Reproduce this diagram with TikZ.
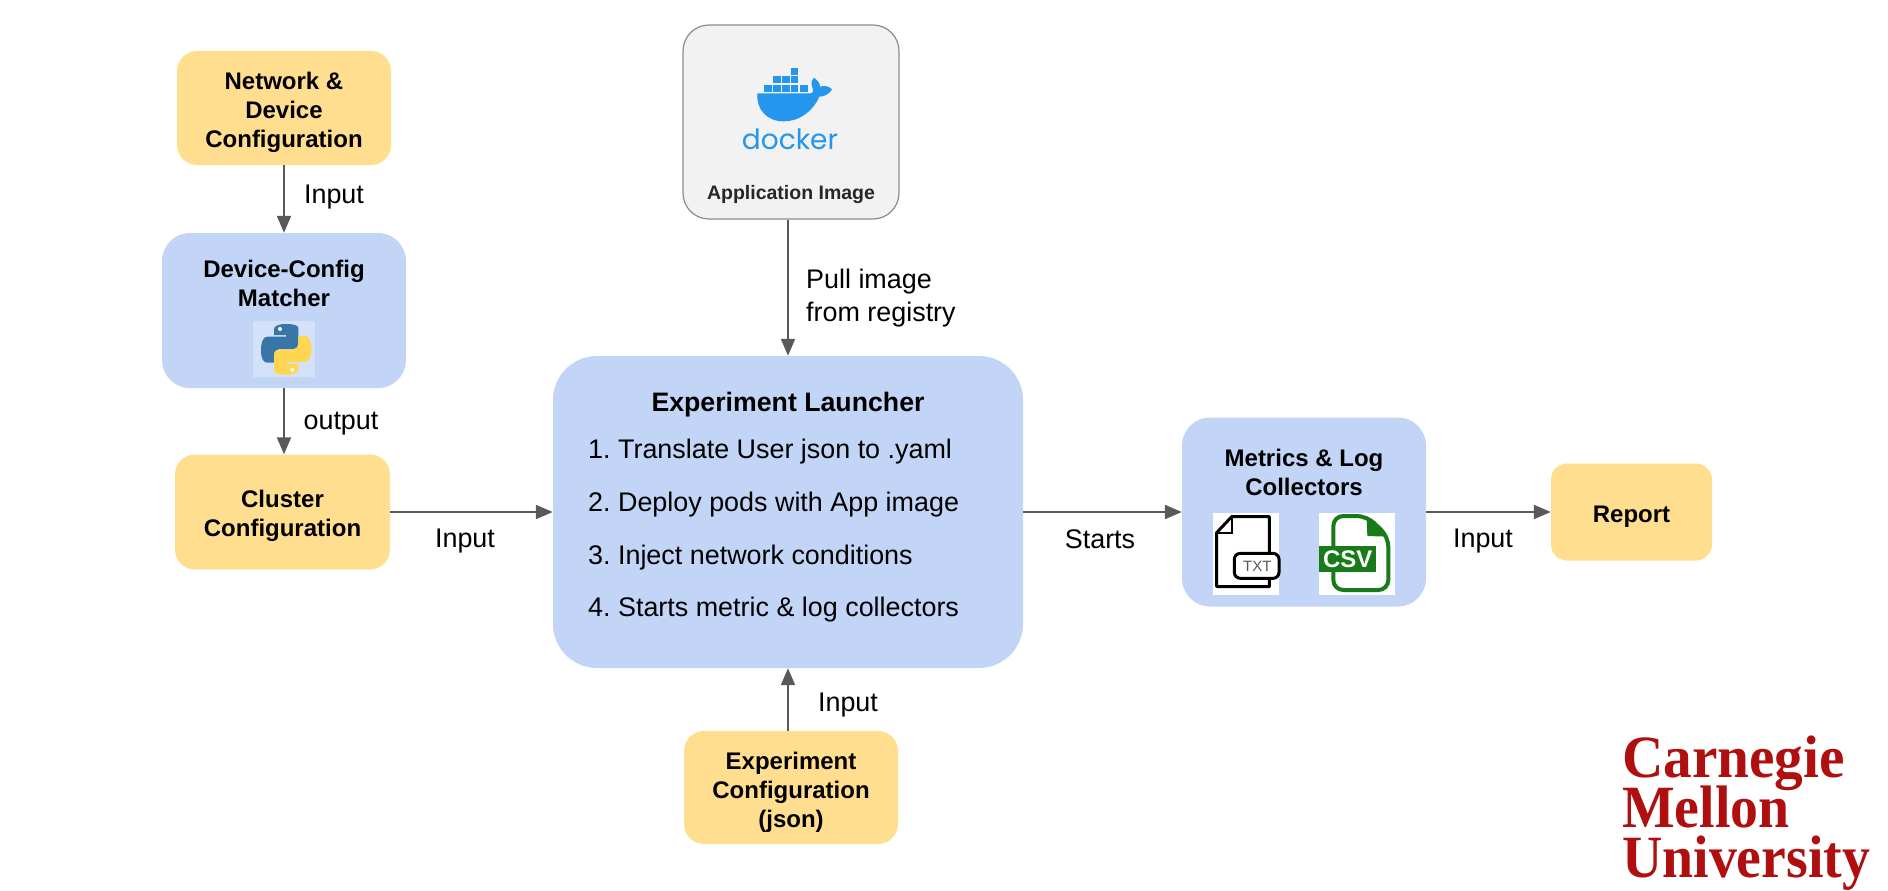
\documentclass[tikz,border=0pt]{standalone}
\usepackage{fontspec}
\setmainfont{Liberation Sans}
\newfontfamily\dockerfont{Poppins}
\newfontfamily\cmufont{Liberation Serif}
\usepackage{xcolor}
\usetikzlibrary{arrows.meta,calc}
\definecolor{cfgyellow}{HTML}{FFDE8F}
\definecolor{procblue}{HTML}{C2D5F6}
\definecolor{arrowgrey}{HTML}{595959}
\definecolor{dockerblue}{HTML}{2496ED}
\definecolor{cmured}{HTML}{B00F0F}
\definecolor{csvgreen}{HTML}{187A18}
\definecolor{pyblue}{HTML}{3A75A8}
\definecolor{pyyellow}{HTML}{FFD64F}
\tikzset{
  boxtext/.style={font=\fontsize{24}{29}\selectfont\bfseries,align=center,text=black},
  cfgbox/.style={fill=cfgyellow,rounded corners=20pt},
  procbox/.style={fill=procblue,rounded corners=28pt},
  lab/.style={font=\fontsize{26.9}{32.5}\selectfont\frenchspacing,align=left,text=black},
  flow/.style={->,arrowgrey,line width=2pt},
  cmuline/.style={font=\fontsize{60}{60}\selectfont\cmufont\bfseries,text=cmured,anchor=base west,inner sep=0pt,transform shape}
}
\newcommand{\snakepath}{(445,325) -- (445,372) .. controls (445,382) and (438,387) .. (430,387) -- (392,387) .. controls (380,387) and (372,395) .. (372,407) -- (372,428) -- (352,428) .. controls (340,428) and (333,415) .. (333,392) .. controls (333,365) and (340,350) .. (352,350) -- (408,350) -- (408,345) -- (372,345) -- (372,328) .. controls (372,318) and (385,312) .. (408,312) .. controls (432,312) and (445,316) .. (445,325) -- cycle}
\begin{document}
\begin{tikzpicture}[x=1pt,y=-1pt,>={Triangle[length=17pt,width=14pt]}]
\useasboundingbox (0,0) rectangle (1888,891);
\node[cfgbox,minimum width=214pt,minimum height=114pt] (network) at (284,108) {};
\node[boxtext] (networktext) at (284,112) {Network \&\\Device\\Configuration};
\node[procbox,minimum width=244pt,minimum height=155pt] (matcher) at (284,310.5) {};
\node[boxtext] (matchertext) at (284,283) {Device-Config\\Matcher};
\node[cfgbox,minimum width=215pt,minimum height=115pt] (cluster) at (282.5,512) {};
\node[boxtext] (clustertext) at (282.5,516) {Cluster\\Configuration};
\node[procbox,rounded corners=44pt,minimum width=470pt,minimum height=312pt] (launcher) at (788,512) {};
\node[lab,font=\fontsize{26.7}{32.5}\selectfont\bfseries] (launchertitle) at (788,405) {Experiment Launcher};
\node[lab,anchor=west,inner sep=0pt] (step1) at (588,452) {1. Translate User json to .yaml};
\node[lab,anchor=west,inner sep=0pt] (step2) at (588,505) {2. Deploy pods with App image};
\node[lab,anchor=west,inner sep=0pt] (step3) at (588,558) {3. Inject network conditions};
\node[lab,anchor=west,inner sep=0pt] (step4) at (588,610) {4. Starts metric \& log collectors};
\node[procbox,minimum width=244pt,minimum height=189pt] (collectors) at (1304,512) {};
\node[boxtext] (collectorstext) at (1304,472) {Metrics \& Log\\Collectors};
\node[cfgbox,rounded corners=16pt,minimum width=161pt,minimum height=97pt] (report) at (1631.5,512) {};
\node[boxtext] (reporttext) at (1631.5,517) {Report};
\node[cfgbox,minimum width=214pt,minimum height=113pt] (expconfig) at (791,787.5) {};
\node[boxtext] (expconfigtext) at (791,792) {Experiment\\Configuration\\(json)};
\node[draw=black!45,line width=1.2pt,fill=black!5,rounded corners=26pt,minimum width=216pt,minimum height=194pt] (registry) at (791,122) {};
\node[font=\fontsize{19.5}{24}\selectfont\bfseries,text=black!85] (apptext) at (791,194) {Application Image};
\node[font=\fontsize{28}{28}\selectfont\dockerfont,text=dockerblue] (dockertext) at (790,139) {docker};
\draw[flow] (network) -- (matcher);
\draw[flow] (matcher.south) -- (cluster.north -| matcher.south);
\draw[flow] (cluster.east) -- (launcher.west);
\draw[flow] (registry.south -| launcher.north) -- (launcher.north);
\draw[flow] (expconfig.north -| launcher.south) -- (launcher.south);
\draw[flow] (launcher.east) -- (collectors.west);
\draw[flow] (collectors.east) -- (report.west);
\node[lab] (lab1) at (334,197) {Input};
\node[lab] (lab2) at (341,424) {output};
\node[lab] (lab3) at (465,541) {Input};
\node[lab,anchor=west,inner sep=0pt] (lab4) at (806,298) {Pull image\\from registry};
\node[lab] (lab5) at (848,705) {Input};
\node[lab] (lab6) at (1100,539) {Starts};
\node[lab] (lab7) at (1483,541) {Input};
\begin{scope}[shift={(660,10)},scale=1/3]
\foreach \x/\y in {392/175,340/199,366/199,392/199,312/224,340/224,366/224,392/224,420/224}
  \fill[dockerblue] (\x,\y) rectangle ++(22.5,21.5);
\fill[dockerblue] (292,250) -- (452,250) .. controls (457,250) and (462,246) .. (458,235) .. controls (452,222) and (454,212) .. (462,203) .. controls (472,210) and (480,220) .. (480,230) .. controls (492,226) and (507,228) .. (516,238) .. controls (507,254) and (490,260) .. (478,260) .. controls (462,297) and (425,334) .. (370,334) .. controls (320,334) and (288,297) .. (292,250) -- cycle;
\end{scope}
\begin{scope}[shift={(150,220)},scale=1/3]
\fill[procblue!70!white] (308,302) rectangle (495,470);
\fill[pyblue] \snakepath;
\fill[white] (390,327) circle (6);
\begin{scope}[rotate around={180:(408.5,388)}]
\fill[pyyellow] \snakepath;
\fill[white] (390,327) circle (6);
\end{scope}
\end{scope}
\begin{scope}[shift={(1170,410)},scale=1/3]
\fill[white] (130,308) rectangle (328,555);
\draw[line width=3pt,line join=round] (298,430) -- (298,320) -- (185,320) -- (140,368) -- (140,530) -- (298,530) -- (298,505);
\draw[line width=2pt] (185,320) -- (185,368) -- (140,368);
\draw[line width=3pt,rounded corners=6pt,fill=white] (193,430) rectangle (327,505);
\node[font=\fontsize{15}{15}\selectfont,text=black!65] (txtlabel) at (262,468) {TXT};
\fill[white] (446,308) rectangle (674,555);
\draw[csvgreen,line width=4pt,rounded corners=10pt] (490,408) -- (490,318) -- (590,318) -- (655,380) -- (655,540) -- (490,540) -- (490,485);
\fill[csvgreen] (590,318) -- (655,380) -- (592,378) -- cycle;
\fill[csvgreen] (446,408) rectangle (618,485);
\node[font=\fontsize{24}{24}\selectfont\bfseries,text=white] (csvlabel) at (533,447) {CSV};
\end{scope}
\node[cmuline,xscale=.955] (cmu1) at (1622,777) {Carnegie};
\node[cmuline,xscale=.93] (cmu2) at (1622,827) {Mellon};
\node[cmuline,xscale=.93] (cmu3) at (1622,877) {University};
\end{tikzpicture}
\end{document}
